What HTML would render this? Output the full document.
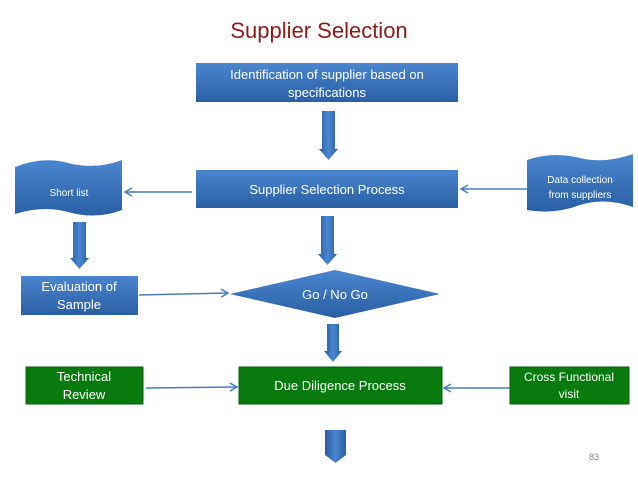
<!DOCTYPE html>
<html><head><meta charset="utf-8"><style>
html,body{margin:0;padding:0;background:#fff;}
svg{display:block;}
text{font-family:"Liberation Sans",sans-serif;fill:#fff;}
</style></head><body>
<svg width="638" height="479" viewBox="0 0 638 479" xmlns="http://www.w3.org/2000/svg">
<defs>
<linearGradient id="b" x1="0" y1="0" x2="0" y2="1">
<stop offset="0" stop-color="#4a86cf"/><stop offset="1" stop-color="#2a5fa3"/></linearGradient>
<linearGradient id="a" x1="0" y1="0" x2="1" y2="0">
<stop offset="0" stop-color="#2a5fa3"/><stop offset="0.5" stop-color="#4a86cf"/><stop offset="1" stop-color="#2a5fa3"/></linearGradient>
<marker id="m" markerWidth="10" markerHeight="10" refX="8" refY="5" orient="auto" markerUnits="userSpaceOnUse">
<path d="M1,1 L8,5 L1,9" fill="none" stroke="#4a7ebb" stroke-width="1.5"/></marker>
</defs>
<text x="319" y="38" text-anchor="middle" font-size="22" style="fill:#8b1a1a">Supplier Selection</text>

<rect x="196" y="63" width="262" height="39" fill="url(#b)"/>
<text x="327" y="79" text-anchor="middle" font-size="13">Identification of supplier based on</text>
<text x="327" y="97" text-anchor="middle" font-size="13">specifications</text>

<path d="M322,111 h13 v38 h3 l-9.5,11 l-9.5,-11 h3z" fill="url(#a)"/>

<rect x="196" y="170" width="262" height="38" fill="url(#b)"/>
<text x="327" y="194" text-anchor="middle" font-size="13">Supplier Selection Process</text>

<path d="M15,167 Q43,156 68,163 Q96,170 122,160 L122,210 Q96,220 68,212 Q43,205 15,214Z" fill="url(#b)"/>
<text x="69" y="196" text-anchor="middle" font-size="10">Short list</text>

<path d="M527,160 Q553,151 580,158 Q605,164 633,154 L633,207 Q605,197 580,205 Q553,215 527,210Z" fill="url(#b)"/>
<text x="580" y="183" text-anchor="middle" font-size="10">Data collection</text>
<text x="580" y="198" text-anchor="middle" font-size="10">from suppliers</text>

<line x1="192" y1="192" x2="125" y2="192" stroke="#4a7ebb" stroke-width="1.5" marker-end="url(#m)"/>
<line x1="527" y1="189" x2="461" y2="189" stroke="#4a7ebb" stroke-width="1.5" marker-end="url(#m)"/>

<path d="M73,222 h13 v36 h3 l-9.5,11 l-9.5,-11 h3z" fill="url(#a)"/>
<path d="M321,216 h13 v38 h3 l-9.5,11 l-9.5,-11 h3z" fill="url(#a)"/>

<rect x="21" y="276" width="117" height="39" fill="url(#b)"/>
<text x="79" y="291" text-anchor="middle" font-size="13">Evaluation of</text>
<text x="79" y="309" text-anchor="middle" font-size="13">Sample</text>

<path d="M230,294 L335,270 L440,294 L335,318Z" fill="url(#b)"/>
<text x="335" y="299" text-anchor="middle" font-size="13">Go / No Go</text>
<line x1="139" y1="295" x2="228" y2="293" stroke="#4a7ebb" stroke-width="1.5" marker-end="url(#m)"/>

<path d="M327,324 h12 v27 h3 l-9,11 l-9,-11 h3z" fill="url(#a)"/>

<rect x="26" y="367" width="117" height="37" fill="#087a0e" stroke="#0a5c0e"/>
<text x="84" y="381" text-anchor="middle" font-size="13">Technical</text>
<text x="84" y="399" text-anchor="middle" font-size="13">Review</text>
<rect x="239" y="367" width="203" height="37" fill="#087a0e" stroke="#0a5c0e"/>
<text x="340" y="390" text-anchor="middle" font-size="13">Due Diligence Process</text>
<rect x="510" y="367" width="119" height="37" fill="#087a0e" stroke="#0a5c0e"/>
<text x="569" y="381" text-anchor="middle" font-size="12">Cross Functional</text>
<text x="569" y="398" text-anchor="middle" font-size="12">visit</text>
<line x1="146" y1="388" x2="237" y2="387" stroke="#4a7ebb" stroke-width="1.5" marker-end="url(#m)"/>
<line x1="510" y1="388" x2="444" y2="388" stroke="#4a7ebb" stroke-width="1.5" marker-end="url(#m)"/>

<path d="M325,430 h21 v25 l-10.5,8 l-10.5,-8z" fill="url(#a)"/>
<text x="594" y="460" text-anchor="middle" font-size="9" style="fill:#888">83</text>
</svg>
</body></html>
